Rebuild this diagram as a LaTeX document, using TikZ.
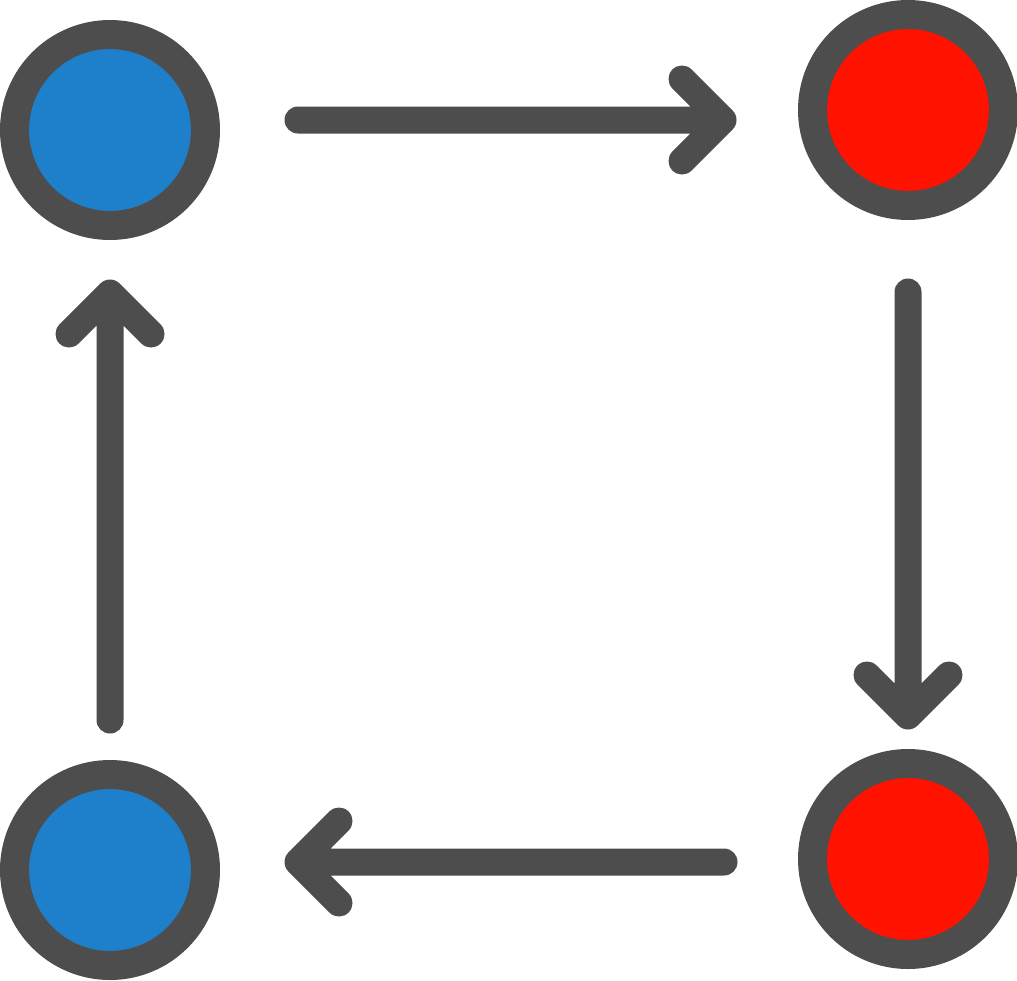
\documentclass[tikz,border=0pt]{standalone}
\definecolor{ringgray}{HTML}{4D4D4D}
\definecolor{dotblue}{HTML}{1E7FCB}
\definecolor{dotred}{HTML}{FF1200}
\begin{document}
\begin{tikzpicture}[x=1pt,y=-1pt,
  dot/.style={circle,draw=ringgray,line width=29pt,inner sep=0pt,minimum size=191pt},
  conn/.style={draw=ringgray,line width=27pt,line cap=round,line join=round}]
\useasboundingbox (0,0) rectangle (1017,980);
\node[dot,fill=dotblue] (tl) at (110,130) {};
\node[dot,fill=dotred] (tr) at (908,110) {};
\node[dot,fill=dotblue] (bl) at (110,870) {};
\node[dot,fill=dotred] (br) at (908,859) {};
% top arrow
\coordinate (a1s) at (298,120); \coordinate (a1e) at (723,120);
\coordinate (a1u) at (682,79); \coordinate (a1d) at (682,161);
\path[conn] (a1s) -- (a1e) (a1u) -- (a1e) -- (a1d);
% right arrow
\coordinate (a2s) at (908,292); \coordinate (a2e) at (908,716);
\coordinate (a2l) at (867,675); \coordinate (a2r) at (949,675);
\path[conn] (a2s) -- (a2e) (a2l) -- (a2e) -- (a2r);
% bottom arrow
\coordinate (a3s) at (724,862); \coordinate (a3e) at (298,862);
\coordinate (a3u) at (339,821); \coordinate (a3d) at (339,903);
\path[conn] (a3s) -- (a3e) (a3u) -- (a3e) -- (a3d);
% left arrow
\coordinate (a4s) at (110,720); \coordinate (a4e) at (110,293);
\coordinate (a4l) at (69,334); \coordinate (a4r) at (151,334);
\path[conn] (a4s) -- (a4e) (a4l) -- (a4e) -- (a4r);
\end{tikzpicture}
\end{document}
